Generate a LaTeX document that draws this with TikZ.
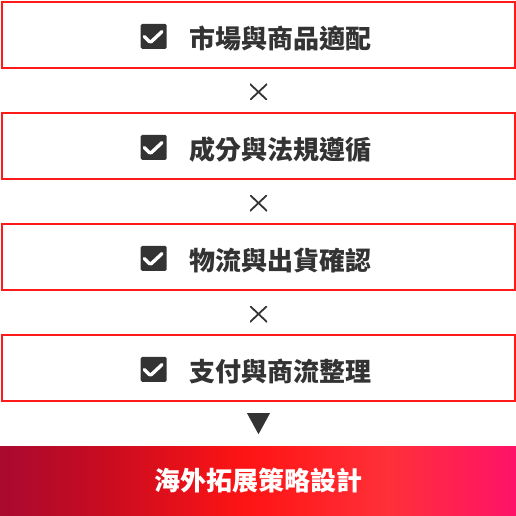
\documentclass[tikz,border=0pt]{standalone}
\usepackage{fontspec}
\newfontfamily\cjk{Noto Sans CJK TC}
\usetikzlibrary{shapes.geometric}
\definecolor{boxred}{RGB}{255,26,26}
\definecolor{darkgray}{RGB}{51,51,51}
\definecolor{gA}{RGB}{170,9,48}
\definecolor{gB}{RGB}{200,12,32}
\definecolor{gC}{RGB}{255,20,20}
\definecolor{gD}{RGB}{255,48,56}
\definecolor{gE}{RGB}{255,18,104}
\pgfdeclarehorizontalshading{redgrad}{100bp}{color(0bp)=(gA); color(25bp)=(gA); color(35bp)=(gB); color(49bp)=(gC); color(62.5bp)=(gD); color(75bp)=(gE); color(100bp)=(gE)}
\tikzset{
  stepbox/.style={draw=boxred, line width=2pt, minimum width=513pt, minimum height=66pt, inner sep=0pt},
  checkbox/.style={fill=darkgray, rounded corners=1.5pt, minimum width=26pt, minimum height=25pt, inner sep=0pt,
    path picture={\draw[white, line width=3.4pt, line cap=round, line join=round]
      ([xshift=-9.4pt,yshift=-0.3pt]path picture bounding box.center) -- ([xshift=-3.4pt,yshift=-6.3pt]path picture bounding box.center) -- ([xshift=8.3pt,yshift=4.7pt]path picture bounding box.center);}},
  steptext/.style={anchor=base west, inner sep=0pt, text=darkgray, font=\cjk\bfseries\fontsize{26pt}{30pt}\selectfont},
  crossmark/.style={minimum width=17pt, minimum height=16pt, inner sep=0pt,
    path picture={\draw[darkgray, line width=1.8pt]
      (path picture bounding box.north west) -- (path picture bounding box.south east)
      (path picture bounding box.north east) -- (path picture bounding box.south west);}},
  arrowtri/.style={minimum width=23pt, minimum height=21pt, inner sep=0pt,
    path picture={\fill[darkgray] (path picture bounding box.north west) -- (path picture bounding box.north east) -- (path picture bounding box.south) -- cycle;}},
  result/.style={minimum width=516pt, minimum height=69pt, inner sep=0pt, shading=redgrad, text=white, font=\cjk\bfseries\fontsize{26pt}{30pt}\selectfont}
}
\begin{document}
\begin{tikzpicture}[x=1pt, y=-1pt]
\useasboundingbox (0,0) rectangle (516,516);
\fill[white] (0,0) rectangle (516,516);
% boxes
\node[stepbox] (b1) at (258,35) {};
\node[stepbox] (b2) at (258,146.3) {};
\node[stepbox] (b3) at (258,256.8) {};
\node[stepbox] (b4) at (258,368.2) {};
% checkboxes
\node[checkbox] (c1) at (153.7,36.3) {};
\node[checkbox] (c2) at (153.7,147.3) {};
\node[checkbox] (c3) at (153.7,258.3) {};
\node[checkbox] (c4) at (153.7,369.3) {};
% texts
\node[steptext] (t1) at (189.5,48.3) {市場與商品適配};
\node[steptext] (t2) at (189.5,159.3) {成分與法規遵循};
\node[steptext] (t3) at (189.5,270.3) {物流與出貨確認};
\node[steptext] (t4) at (189.5,381.3) {支付與商流整理};
% separators
\node[crossmark] (x1) at (258.5,92) {};
\node[crossmark] (x2) at (258.5,203) {};
\node[crossmark] (x3) at (258.5,314) {};
\node[arrowtri] (tri) at (258.5,423.7) {};
% result
\node[result] (r) at (258,480.5) {海外拓展策略設計};
\end{tikzpicture}
\end{document}
